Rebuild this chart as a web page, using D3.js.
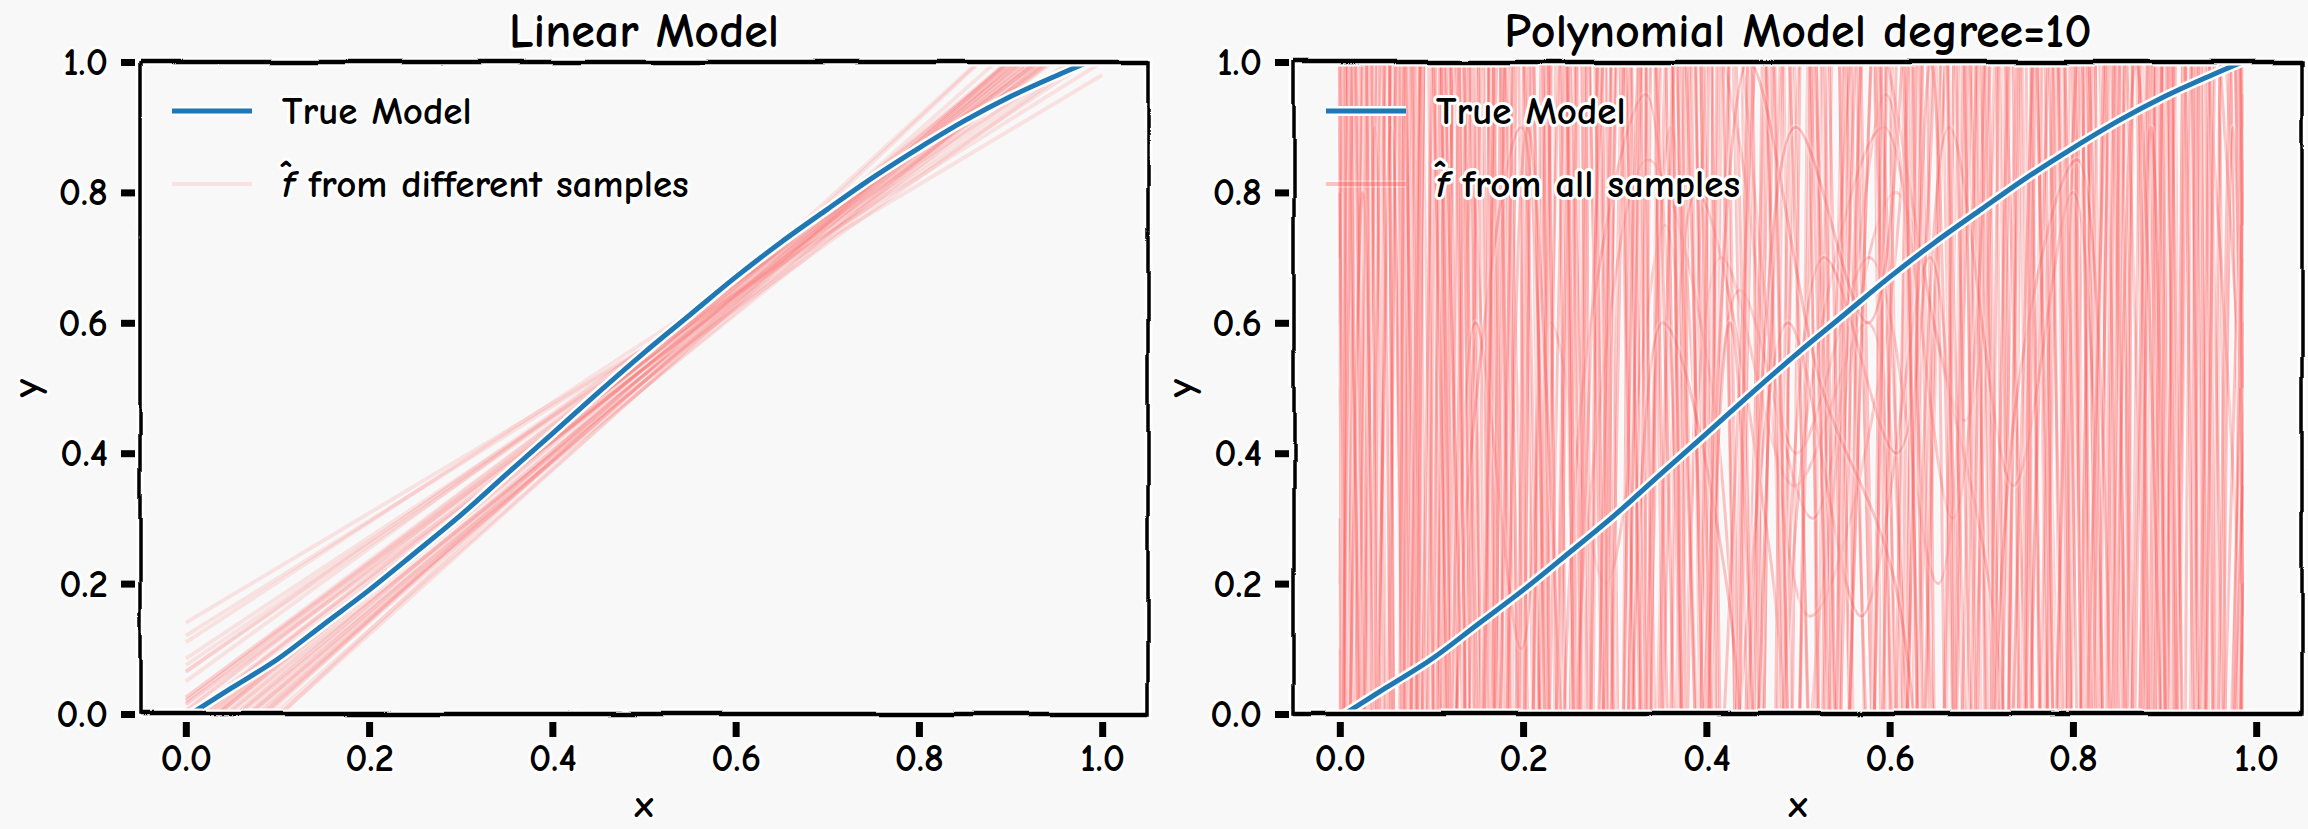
<!DOCTYPE html>
<meta charset="utf-8">
<style>
body { margin: 0; background: #f8f8f8; }
text {
  font-family: "Humor Sans", "Comic Neue", "Comic Sans MS", "Liberation Sans Narrow", "Liberation Sans", sans-serif;
  font-weight: bold;
  fill: #000;
  paint-order: stroke;
  stroke: #fff;
  stroke-width: 6px;
  stroke-linejoin: round;
}
</style>
<body>

<script src="https://cdn.jsdelivr.net/npm/d3@7"></script>

<script>

// ---- data ----
var xTicks = [0.0, 0.2, 0.4, 0.6, 0.8, 1.0];
var yTicks = [0.0, 0.2, 0.4, 0.6, 0.8, 1.0];
var titles = ["Linear Model", "Polynomial Model degree=10"];
var legendTrue = ["True Model", "True Model"];
var legendFit = [" from different samples", " from all samples"];

// true model (blue)
var trueX = [0.005, 0.05, 0.1, 0.15, 0.2, 0.25, 0.3, 0.35, 0.4, 0.45, 0.5, 0.55, 0.6, 0.65, 0.7, 0.75, 0.8, 0.85, 0.9, 0.95, 0.985];
var trueY = [0.0, 0.04, 0.084, 0.137, 0.19, 0.247, 0.305, 0.368, 0.43, 0.493, 0.554, 0.612, 0.67, 0.724, 0.774, 0.823, 0.868, 0.91, 0.947, 0.979, 1.0];

// linear fits, one per sample (value at x=0 and slope)
var fitRange = [0, 1];
var fitIntercept = [-0.04, -0.09, 0.005, -0.105, 0.015, -0.08, 0.065, -0.115, -0.04, 0.02, -0.10, 0.025, -0.025, 0.11, -0.065, -0.12,
                    -0.035, -0.01, 0.065, -0.055, 0.14, -0.075, -0.035, -0.005, -0.065, -0.135, 0.075, -0.02, 0.02, -0.08, -0.04, -0.065,
                    0.12, -0.095, 0.005, -0.05, 0.025, 0.015, -0.13, -0.04, -0.03, -0.05, 0.085, -0.025, -0.085, -0.01, 0.05, -0.105];
var fitSlope = [1.14, 1.20, 1.09, 1.25, 1.05, 1.16, 0.99, 1.29, 1.12, 1.06, 1.22, 1.03, 1.11, 0.92, 1.17, 1.24,
                1.15, 1.08, 0.97, 1.13, 0.84, 1.19, 1.15, 1.07, 1.13, 1.31, 0.95, 1.10, 1.04, 1.18, 1.14, 1.17,
                0.88, 1.21, 1.07, 1.16, 1.05, 1.01, 1.26, 1.16, 1.12, 1.12, 0.93, 1.11, 1.21, 1.10, 1.02, 1.23];

// degree-10 polynomial fits, sampled at knots (they run far outside [0,1])
var polyKnots = [0, 0.035, 0.075, 0.12, 0.17, 0.225, 0.285, 0.35, 0.42, 0.5, 0.58, 0.655, 0.725, 0.79, 0.85, 0.905, 0.95, 0.985];
// small offset of the inner knots of each fit
var polyShift = [0.000, 0.018, -0.012, 0.027, -0.024, 0.009, -0.004, 0.022, -0.017, 0.013, -0.029, 0.005, 0.031, -0.009, 0.016, -0.021,
                 0.024, -0.002, 0.011, -0.026, 0.020, -0.014, 0.003, 0.029, -0.007, 0.014, -0.019, 0.007, -0.031, 0.025, -0.011, 0.017,
                 -0.023, 0.010, -0.005, 0.028, -0.016, 0.021, -0.027, 0.002, 0.015, -0.010, 0.026, -0.020, 0.006, -0.003, 0.019, -0.015];
var polyFits = [
  [0.6, 4.5, -3.2, 2.8, -1.1, 5.3, -2.4, 3.6, -0.6, 2.2, -3.8, 4.1, -1.7, 3.3, -4.6, 2.5, -0.8, 0.3],
  [-2.1, 1.4, -4.8, 3.9, -2.7, 1.8, -5.1, 2.6, -1.3, 4.4, -0.4, 1.6, -3.0, 5.6, -2.2, 1.9, -3.5, 0.9],
  [3.8, -0.5, 2.2, -3.6, 4.7, -1.4, 2.0, -4.2, 3.1, -2.5, 1.3, -1.8, 4.9, -0.7, 3.4, -5.2, 2.7, 0.1],
  [-0.3, 5.8, -1.9, 1.2, -4.4, 3.0, -0.8, 1.5, -2.9, 0.2, 0.8, 0.45, 3.7, -2.3, 1.4, -3.9, 4.8, 0.7],
  [1.7, -2.6, 4.3, -0.9, 2.5, -3.3, 5.0, -1.6, 2.9, -4.7, 3.5, -1.2, 2.1, -3.1, 4.0, -1.0, 1.8, 0.5],
  [-4.0, 2.0, -1.2, 3.4, -5.5, 1.7, -2.1, 4.6, -3.4, 1.1, -2.0, 3.8, -0.5, 1.9, -2.8, 3.6, -1.4, 0.2],
  [0.9, -3.7, 2.6, -2.0, 1.6, -0.6, 3.9, -2.8, 0.7, 0.35, 0.6, -1.5, 2.4, -4.3, 2.9, -0.9, 5.1, 0.8],
  [2.4, -1.0, 3.1, -4.9, 1.3, -2.2, 1.1, -3.0, 5.2, -1.9, 2.7, -3.6, 1.5, -1.1, 3.2, -2.4, 2.0, 0.4],
  [-1.2, 3.5, -0.7, 2.3, -2.9, 4.8, -1.5, 2.2, -1.1, 3.0, -4.1, 1.9, -2.6, 4.2, -1.5, 2.8, -2.9, 0.6],
  [0.2, 1.9, -5.0, 4.0, -0.4, 2.7, -3.5, 1.3, 0.9, 0.15, 0.55, 2.3, -1.8, 2.6, -3.4, 1.5, -1.8, 0.95],
  [5.0, -2.3, 1.5, -1.3, 3.6, -4.5, 2.4, -0.9, 2.0, -2.2, 4.6, -0.3, 3.1, -2.0, 1.7, -4.4, 3.9, 0.0],
  [-0.8, 2.9, -3.9, 1.7, -2.0, 0.6, 0.2, 0.75, -1.7, 3.7, -1.6, 2.7, -5.3, 1.2, -0.7, 3.0, -2.1, 0.3],
  [1.3, -4.2, 1.1, -2.4, 5.1, -1.8, 1.4, -2.3, 4.1, -0.6, 1.9, -2.9, 3.5, -1.6, 4.5, -1.3, 1.4, 0.85],
  [-3.0, 4.8, -2.1, 2.9, -1.6, 3.8, -4.0, 3.3, -2.4, 1.6, -0.9, 5.4, -1.1, 2.2, -2.5, 1.2, -4.8, 0.45],
  [0.5, -1.6, 3.7, -3.3, 2.1, -2.7, 1.6, -1.2, 0.65, 0.3, 0.95, -0.4, 1.9, -3.7, 2.3, -1.7, 3.2, 0.15],
  [2.9, -0.2, 2.4, -1.7, 3.3, -0.3, 2.8, -5.0, 1.8, -3.0, 2.4, -2.0, 4.3, -2.7, 1.1, -2.8, 2.4, 0.7],
  [-1.8, 1.2, -2.6, 4.6, -3.8, 2.3, -1.0, 1.9, -3.2, 2.7, -1.3, 1.4, -0.8, 3.0, -1.2, 4.6, -0.5, 0.25],
  [1.0, -5.4, 2.0, -0.6, 1.4, -3.9, 4.4, -2.0, 1.2, 0.4, 0.7, 0.2, 2.8, -1.4, 3.8, -2.0, 2.9, 0.55],
  [-2.7, 3.2, -1.5, 1.3, -2.3, 5.6, -2.9, 0.9, -0.4, 4.8, -2.5, 3.1, -1.0, 1.6, -5.0, 2.1, -1.2, 0.9],
  [4.2, -1.3, 5.0, -2.8, 0.8, -1.2, 3.3, -1.4, 2.6, -1.2, 3.6, -4.8, 2.0, -2.1, 2.6, -0.6, 4.3, 0.35],
  [-0.5, 2.6, -2.0, 3.0, -4.1, 1.1, -1.6, 5.3, -2.1, 2.0, -0.6, 1.2, -2.2, 4.8, -0.9, 3.3, -2.4, 0.65],
  [1.5, -3.0, 1.8, -1.5, 4.0, -2.5, 0.3, 0.85, 0.5, -2.6, 1.5, -1.9, 3.3, -0.9, 2.0, -3.3, 1.1, 0.1],
  [-3.5, 0.9, -4.5, 2.1, -0.8, 2.0, -3.1, 2.3, -0.9, 1.4, -3.4, 4.3, -1.5, 2.5, -1.9, 5.0, -3.0, 0.75],
  [0.7, 3.9, -1.4, 5.2, -1.3, 3.4, -0.5, 1.7, -4.6, 2.5, -1.0, 2.1, -3.8, 1.4, -4.0, 1.6, -0.9, 0.5],
  [2.2, -1.9, 2.9, -3.0, 1.9, -4.7, 2.2, -0.7, 3.5, -1.5, 1.1, 0.6, 0.1, -2.6, 3.5, -1.1, 3.5, 0.2],
  [-1.0, 4.2, -0.8, 1.6, -3.4, 1.5, -2.6, 3.8, -1.8, 0.5, 0.9, 0.3, 1.6, -1.0, 2.4, -2.6, 1.7, 0.8],
  [3.3, -2.9, 0.9, -4.1, 2.7, -0.9, 1.8, -3.7, 2.3, -3.6, 2.1, -1.1, 3.9, -3.2, 1.3, -1.5, 4.4, 0.3],
  [-2.4, 2.2, -3.4, 1.0, -1.9, 4.1, -1.2, 2.8, -2.7, 3.4, -1.8, 4.9, -0.6, 1.8, -3.1, 2.6, -2.3, 0.6],
  [0.1, -0.9, 4.9, -2.2, 3.0, -1.6, 2.5, -1.8, 0.8, 0.25, -1.4, 2.6, -2.9, 3.9, -1.3, 1.8, -1.6, 0.95],
  [1.9, -4.4, 3.3, -1.1, 1.7, -3.1, 4.2, -1.1, 1.5, -2.0, 4.3, -2.4, 1.3, -4.0, 2.7, -3.7, 0.9, 0.4],
  [-0.6, 1.6, -1.7, 3.6, -2.6, 2.5, -0.7, 4.0, -0.3, 0.6, 0.15, 0.7, -1.3, 2.1, -2.3, 1.3, -4.1, 0.2],
  [2.7, -1.1, 2.1, -5.2, 1.5, -1.0, 3.0, -2.5, 1.9, -1.0, 2.9, -1.6, 5.0, -1.8, 3.6, -0.8, 2.2, 0.65],
  [0.3, -2.2, 3.4, -1.5, 2.0, -4.0, 1.3, -2.6, 2.4, -0.8, 3.0, -3.3, 1.7, -0.4, 2.9, -3.1, 1.5, 0.45],
  [-1.6, 4.0, -0.6, 3.2, -2.1, 1.4, -4.3, 2.1, -0.7, 1.8, -2.4, 0.9, 0.35, 0.8, -2.0, 4.1, -1.0, 0.85],
  [2.0, -0.4, 1.6, -2.7, 3.8, -0.7, 2.6, -1.3, 4.4, -3.3, 1.2, -0.8, 3.4, -2.5, 1.3, -0.6, 3.0, 0.25],
  [-0.9, 3.0, -2.8, 0.6, 0.1, 2.9, -1.9, 3.1, -2.0, 0.7, 0.4, 3.5, -2.7, 2.9, -1.1, 2.2, -4.4, 0.55],
  [4.6, -3.4, 2.5, -0.7, 1.5, -1.8, 0.55, 0.95, -1.2, 2.4, -3.0, 1.7, -0.9, 4.2, -2.9, 1.9, -0.7, 0.1],
  [-2.9, 1.7, -0.5, 4.5, -1.5, 3.2, -3.6, 1.1, -2.6, 3.9, -0.5, 2.9, -1.4, 1.1, -3.8, 2.4, -1.9, 0.7],
  [1.1, -1.4, 2.7, -1.8, 0.4, 0.9, -2.3, 2.7, -0.5, 1.3, -1.9, 4.6, -2.0, 2.0, -1.4, 3.9, -2.6, 0.4],
  [-0.2, 3.6, -3.0, 1.9, -3.3, 2.2, -1.3, 0.6, 0.2, -1.7, 2.0, -0.7, 2.6, -1.9, 1.9, -2.2, 2.6, 0.9],
  [3.1, -1.7, 4.1, -2.5, 2.9, -0.4, 1.2, -2.0, 3.3, -0.9, 1.7, -2.2, 0.5, 0.85, -1.6, 3.2, -3.2, 0.3],
  [-1.4, 0.8, -2.2, 2.5, -0.3, 4.4, -0.9, 2.5, -3.7, 2.9, -2.7, 1.0, -3.3, 3.4, -1.0, 1.4, -1.1, 0.6],
  [0.8, -4.8, 1.4, -0.3, 3.5, -2.0, 3.6, -0.5, 1.0, 0.5, 0.2, -1.0, 1.8, -1.3, 4.3, -1.8, 1.2, 0.15],
  [-3.8, 2.7, -1.8, 1.5, -2.5, 0.9, -0.5, 3.4, -1.4, 2.1, -0.8, 3.3, -4.2, 1.6, -2.7, 0.9, -2.3, 0.8],
  [1.6, -0.7, 3.0, -3.9, 1.1, -2.9, 2.9, -1.5, 0.6, -2.3, 3.9, -1.3, 2.2, -0.5, 1.6, -2.5, 3.7, 0.5],
  [-0.4, 2.1, -1.1, 2.0, -4.8, 3.6, -2.2, 1.6, -0.8, 0.9, 0.6, 2.0, -1.6, 3.1, -3.6, 2.9, -0.8, 0.35],
  [2.5, -2.6, 1.2, -1.0, 2.2, -1.1, 4.7, -3.3, 2.7, -1.1, 1.4, -3.1, 2.9, -2.4, 1.0, -1.2, 2.1, 0.75],
  [-2.2, 4.4, -3.7, 2.6, -0.9, 1.9, -2.7, 1.2, -1.9, 4.1, -1.1, 2.4, -0.7, 1.5, -2.1, 4.0, -3.4, 0.2]
];

// ---- layout ----
var width = 2308, height = 829;
var plotTop = 62, plotBottom = 714;
var panels = [{left: 140, right: 1148, alpha: 0.09}, {left: 1294, right: 2302, alpha: 0.22}];

var blue = "#1f77b4", red = "#ff0000";

var svg = d3.select("body").append("svg")
    .attr("width", width)
    .attr("height", height);

svg.append("rect").attr("width", width).attr("height", height).attr("fill", "#f8f8f8");

// wobbly xkcd-ish spines
var defs = svg.append("defs");
var wig = defs.append("filter").attr("id", "wig")
    .attr("filterUnits", "userSpaceOnUse")
    .attr("x", 0).attr("y", 0).attr("width", width).attr("height", height);
wig.append("feTurbulence").attr("type", "fractalNoise")
    .attr("baseFrequency", "0.012").attr("numOctaves", 1).attr("seed", 4).attr("result", "n");
wig.append("feDisplacementMap").attr("in", "SourceGraphic").attr("in2", "n")
    .attr("scale", 6).attr("xChannelSelector", "R").attr("yChannelSelector", "G");

var y = d3.scaleLinear().domain([0, 1]).range([plotBottom, plotTop]);

panels.forEach(function(p, i) {
    var x = d3.scaleLinear().domain([-0.05, 1.05]).range([p.left, p.right]);
    var g = svg.append("g");

    defs.append("clipPath").attr("id", "clip" + i)
      .append("rect")
        .attr("x", p.left).attr("y", plotTop)
        .attr("width", p.right - p.left).attr("height", plotBottom - plotTop);

    var plot = g.append("g").attr("clip-path", "url(#clip" + i + ")");

    // fitted curves
    if (i == 0) {
        fitIntercept.forEach(function(a, k) {
            var b = fitSlope[k];
            var pts = fitRange.map(function(t) { return [x(t), y(a + b * t)]; });
            var d = d3.line()(pts);
            plot.append("path").attr("d", d).attr("fill", "none")
                .attr("stroke", "#fff").attr("stroke-width", 8).attr("stroke-opacity", p.alpha);
            plot.append("path").attr("d", d).attr("fill", "none")
                .attr("stroke", red).attr("stroke-width", 4).attr("stroke-opacity", p.alpha);
        });
    } else {
        polyFits.forEach(function(vals, c) {
            var last = polyKnots.length - 1;
            var polyLine = d3.line()
                .x(function(d, k) { return x(k == 0 || k == last ? polyKnots[k] : polyKnots[k] + polyShift[c]); })
                .y(function(d) { return y(d); })
                .curve(d3.curveCatmullRom.alpha(0.5));
            var d = polyLine(vals);
            plot.append("path").attr("d", d).attr("fill", "none")
                .attr("stroke", "#fff").attr("stroke-width", 7).attr("stroke-opacity", p.alpha);
            plot.append("path").attr("d", d).attr("fill", "none")
                .attr("stroke", red).attr("stroke-width", 3).attr("stroke-opacity", p.alpha);
        });
    }

    // true model
    var trueLine = d3.line()
        .x(function(d, k) { return x(trueX[k]); })
        .y(function(d) { return y(d); })
        .curve(d3.curveCatmullRom);
    plot.append("path").attr("d", trueLine(trueY)).attr("fill", "none")
        .attr("stroke", "#fff").attr("stroke-width", 10);
    plot.append("path").attr("d", trueLine(trueY)).attr("fill", "none")
        .attr("stroke", blue).attr("stroke-width", 5);

    // spines
    var sp = g.append("g").attr("filter", "url(#wig)");
    var box = [[p.left, plotTop], [p.right, plotTop], [p.right, plotBottom], [p.left, plotBottom], [p.left, plotTop]];
    sp.append("path").attr("d", d3.line()(box)).attr("fill", "none")
        .attr("stroke", "#fff").attr("stroke-width", 9);
    sp.append("path").attr("d", d3.line()(box)).attr("fill", "none")
        .attr("stroke", "#000").attr("stroke-width", 3.5);
    // top and bottom look heavier
    [plotTop, plotBottom].forEach(function(yy) {
        sp.append("line").attr("x1", p.left).attr("x2", p.right)
            .attr("y1", yy).attr("y2", yy)
            .attr("stroke", "#000").attr("stroke-width", 4.5);
    });

    // axes
    var xAxis = d3.axisBottom(x).tickValues(xTicks).tickSizeInner(15).tickSizeOuter(0)
        .tickPadding(6).tickFormat(d3.format(".1f"));
    var yAxis = d3.axisLeft(y).tickValues(yTicks).tickSizeInner(14).tickSizeOuter(0)
        .tickPadding(13).tickFormat(d3.format(".1f"));

    var gx = g.append("g").attr("transform", "translate(0," + (plotBottom + 8) + ")").call(xAxis);
    var gy = g.append("g").attr("transform", "translate(" + (p.left - 5) + ",0)").call(yAxis);
    [gx, gy].forEach(function(ax) {
        ax.select(".domain").remove();
        ax.selectAll(".tick line").attr("stroke", "#000").attr("stroke-width", 7);
        ax.selectAll(".tick text").attr("font-size", 39).attr("font-family", null);
    });

    // labels
    var cx = (p.left + p.right) / 2;
    g.append("text").attr("x", cx).attr("y", 47).attr("text-anchor", "middle")
        .attr("font-size", 48).text(titles[i]);
    g.append("text").attr("x", cx).attr("y", 817).attr("text-anchor", "middle")
        .attr("font-size", 38).text("x");
    g.append("text").attr("transform", "translate(" + (p.left - 110) + "," + 388 + ") rotate(-90)")
        .attr("text-anchor", "middle").attr("dy", "0.25em")
        .attr("font-size", 40).text("y");

    // legend
    var lg = g.append("g").attr("transform", "translate(" + p.left + ",0)");
    lg.append("line").attr("x1", 32).attr("x2", 112).attr("y1", 111).attr("y2", 111)
        .attr("stroke", "#fff").attr("stroke-width", 10);
    lg.append("line").attr("x1", 32).attr("x2", 112).attr("y1", 111).attr("y2", 111)
        .attr("stroke", blue).attr("stroke-width", 5);
    lg.append("line").attr("x1", 32).attr("x2", 112).attr("y1", 184).attr("y2", 184)
        .attr("stroke", "#fff").attr("stroke-width", 8).attr("stroke-opacity", p.alpha);
    lg.append("line").attr("x1", 32).attr("x2", 112).attr("y1", 184).attr("y2", 184)
        .attr("stroke", red).attr("stroke-width", 4).attr("stroke-opacity", p.alpha);
    lg.append("text").attr("x", 142).attr("y", 124).attr("font-size", 39).text(legendTrue[i]);
    var ft = lg.append("text").attr("x", 142).attr("y", 197).attr("font-size", 39);
    ft.append("tspan").attr("font-style", "italic").text("f");
    ft.append("tspan").text(legendFit[i]);
    lg.append("text").attr("x", 146).attr("y", 186).attr("font-size", 34)
        .attr("text-anchor", "middle").text("\u02C6");
});

</script>
</body>
